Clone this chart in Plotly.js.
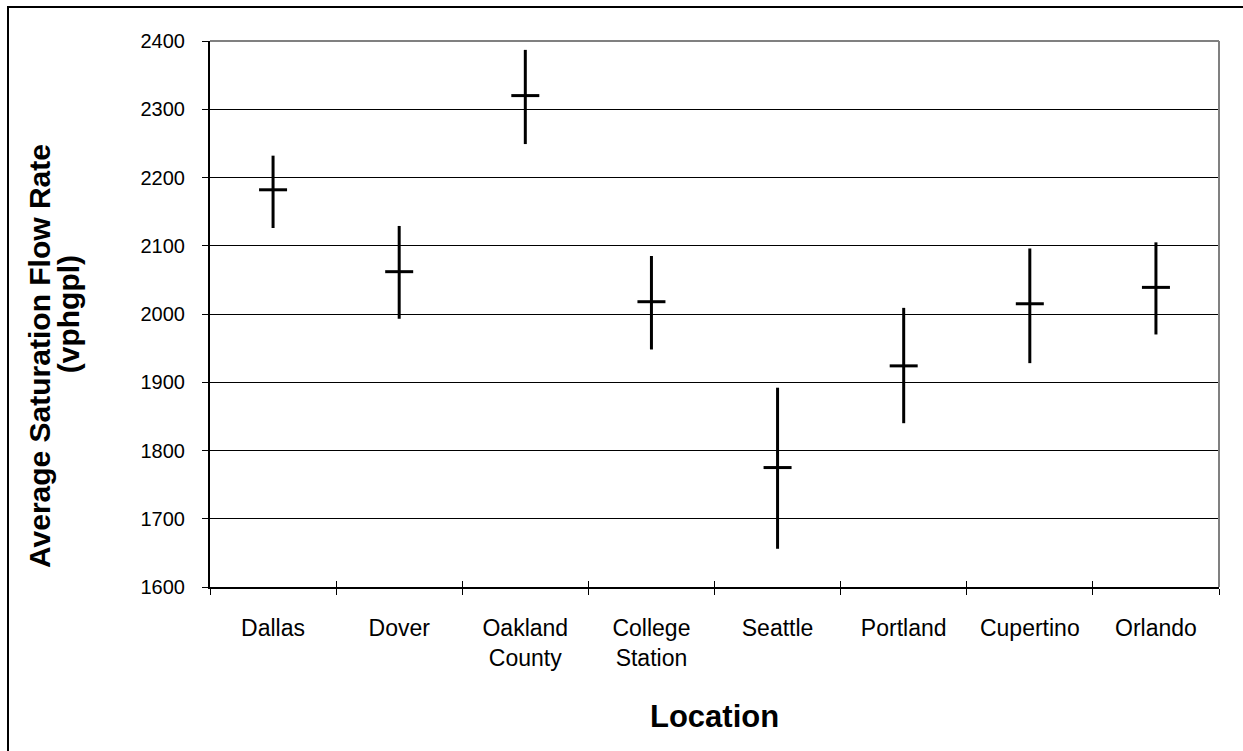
<!DOCTYPE html>
<html>
<head>
<meta charset="utf-8">
<script src="https://cdn.plot.ly/plotly-3.0.1.min.js"></script>
<style>
  html, body { margin: 0; padding: 0; background: #fff; overflow: hidden; }
  #chart { width: 1243px; height: 751px; position: absolute; left: 0; top: 0; }
  #frame { position: absolute; left: 7px; top: 6px; width: 2000px; height: 2000px;
           border: 2px solid #000; pointer-events: none; z-index: 5; }
</style>
</head>
<body>
<div id="chart"></div>
<div id="frame"></div>
<script>
const categories = ['Dallas', 'Dover', 'Oakland<br>County', 'College<br>Station', 'Seattle', 'Portland', 'Cupertino', 'Orlando'];
const meanRate = [2182, 2062, 2320, 2018, 1775, 1924, 2015, 2039];
const highRate = [2232, 2129, 2387, 2085, 1892, 2009, 2096, 2105];
const lowRate  = [2126, 1993, 2249, 1948, 1656, 1840, 1928, 1970];
const yTickVals = [1600, 1700, 1800, 1900, 2000, 2100, 2200, 2300, 2400];
const yTitleLine1 = 'Average Saturation Flow Rate';
const yTitleLine2 = '(vphgpl)';
const xTitle = 'Location';

const FONT = 'Liberation Sans, Arial, sans-serif';

const errPlus = meanRate.map((m, i) => highRate[i] - m);
const errMinus = meanRate.map((m, i) => m - lowRate[i]);

const main = {
  type: 'scatter',
  mode: 'markers',
  x: categories,
  y: meanRate,
  marker: { symbol: 'line-ew', size: 20, color: '#000', line: { color: '#000', width: 3 } },
  error_y: { type: 'data', symmetric: false, array: errPlus, arrayminus: errMinus,
             color: '#000', thickness: 3, width: 0 },
  hoverinfo: 'x+y',
  showlegend: false
};
const tickHelper = {
  type: 'scatter', mode: 'none', x: categories, y: meanRate,
  xaxis: 'x2', yaxis: 'y2', hoverinfo: 'skip', showlegend: false
};

const layout = {
  width: 1243, height: 751,
  margin: { l: 210, r: 24, t: 41, b: 164 },
  paper_bgcolor: '#fff', plot_bgcolor: '#fff',
  font: { family: FONT, color: '#000' },
  xaxis: {
    type: 'category', categoryorder: 'array', categoryarray: categories,
    range: [-0.5, 7.5], showline: true, linecolor: '#000', linewidth: 2,
    ticks: 'outside', ticklen: 6, tickwidth: 1, tickcolor: '#000', tickson: 'boundaries',
    showgrid: false, zeroline: false,
    tickfont: { family: FONT, size: 23, color: '#000' }, ticklabelstandoff: 19,
    fixedrange: true
  },
  xaxis2: {
    type: 'category', categoryorder: 'array', categoryarray: categories,
    overlaying: 'x', anchor: 'y', side: 'bottom', range: [-0.5, 7.5],
    ticks: 'inside', ticklen: 6, tickwidth: 1, tickcolor: '#000', tickson: 'boundaries',
    showticklabels: false, showgrid: false, showline: false, zeroline: false, fixedrange: true
  },
  yaxis: {
    range: [1600, 2400], tickvals: yTickVals, showline: true, linecolor: '#000', linewidth: 2,
    ticks: 'outside', ticklen: 6, tickwidth: 1, tickcolor: '#000',
    showgrid: true, gridcolor: '#000', gridwidth: 1, zeroline: false,
    tickfont: { family: FONT, size: 20, color: '#000' }, ticklabelstandoff: 13,
    fixedrange: true
  },
  yaxis2: {
    overlaying: 'y', anchor: 'x', side: 'left', range: [1600, 2400], tickvals: yTickVals,
    ticks: 'inside', ticklen: 6, tickwidth: 1, tickcolor: '#000',
    showticklabels: false, showgrid: false, showline: false, zeroline: false, fixedrange: true
  },
  shapes: [
    { type: 'line', xref: 'paper', yref: 'paper', x0: 0, x1: 1, y0: 1, y1: 1,
      line: { color: '#808080', width: 2 }, layer: 'above' },
    { type: 'line', xref: 'paper', yref: 'paper', x0: 1, x1: 1, y0: 0, y1: 1,
      line: { color: '#808080', width: 2 }, layer: 'above' }
  ],
  annotations: [
    { text: xTitle, xref: 'paper', yref: 'paper', x: 0.5, y: -0.238,
      xanchor: 'center', yanchor: 'middle', showarrow: false,
      font: { family: FONT, size: 31, weight: 'bold', color: '#000' } },
    { text: yTitleLine1, xref: 'paper', yref: 'paper', x: -0.1695, y: 0.423,
      xanchor: 'center', yanchor: 'middle', textangle: -90, showarrow: false,
      font: { family: FONT, size: 30, weight: 'bold', color: '#000' } },
    { text: yTitleLine2, xref: 'paper', yref: 'paper', x: -0.1405, y: 0.5,
      xanchor: 'center', yanchor: 'middle', textangle: -90, showarrow: false,
      font: { family: FONT, size: 30, weight: 'bold', color: '#000' } }
  ]
};

Plotly.newPlot('chart', [main, tickHelper], layout, { displayModeBar: false, staticPlot: true });
</script>
</body>
</html>
